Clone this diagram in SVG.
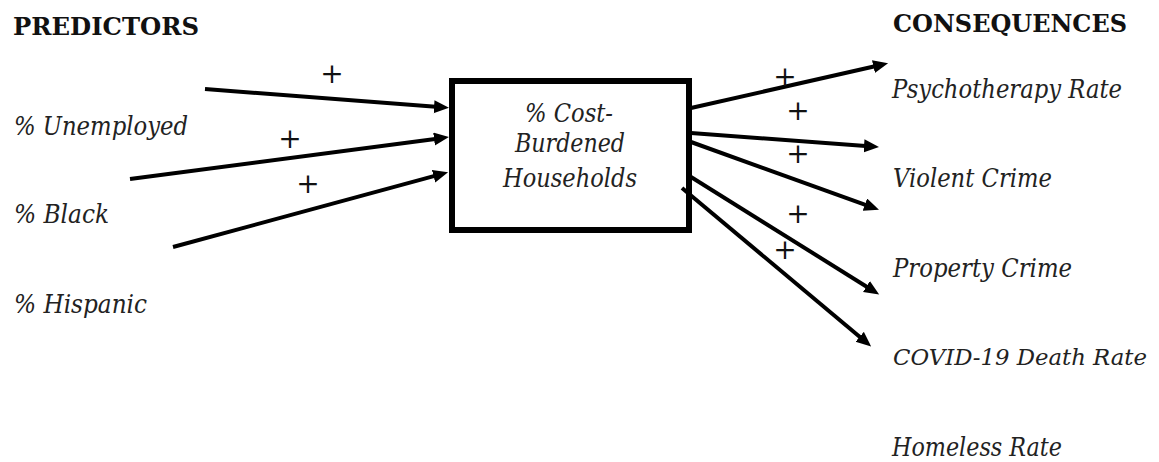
<svg xmlns="http://www.w3.org/2000/svg" width="1159" height="462" viewBox="0 0 1159 462">
<style>
.hd{font-family:"DejaVu Serif","Liberation Serif",serif;font-weight:bold;font-size:24px;fill:#111}
.lb{font-family:"DejaVu Serif","Liberation Serif",serif;font-style:italic;font-size:25.5px;fill:#222}
.pl{font-family:"DejaVu Serif","Liberation Serif",serif;font-size:28px;fill:#111;text-anchor:middle}
.ar{stroke:#000;stroke-width:4;fill:none;marker-end:url(#ah)}
.box{fill:#fff;stroke:#000;stroke-width:6}
</style>
<defs>
<marker id="ah" markerUnits="userSpaceOnUse" markerWidth="17" markerHeight="14" refX="5" refY="6.5" orient="auto" viewBox="0 0 17 14">
<path d="M0,0 L15,6.5 L0,13 z" fill="#000"/>
</marker>
</defs>
<g id="headers">
<text class="hd" x="13" y="35" textLength="186" lengthAdjust="spacingAndGlyphs">PREDICTORS</text>
<text class="hd" x="893" y="32" textLength="234" lengthAdjust="spacingAndGlyphs">CONSEQUENCES</text>
</g>
<g id="pred-unemployed"><text class="lb" x="14" y="135" textLength="174" lengthAdjust="spacingAndGlyphs">% Unemployed</text></g>
<g id="pred-black"><text class="lb" x="14" y="223" textLength="95" lengthAdjust="spacingAndGlyphs">% Black</text></g>
<g id="pred-hispanic"><text class="lb" x="14" y="313" textLength="133" lengthAdjust="spacingAndGlyphs">% Hispanic</text></g>
<g id="center-node">
<rect class="box" x="452" y="81" width="237" height="149"/>
<text class="lb" x="569" y="122" text-anchor="middle" textLength="88" lengthAdjust="spacingAndGlyphs">% Cost-</text>
<text class="lb" x="570" y="152" text-anchor="middle" textLength="110" lengthAdjust="spacingAndGlyphs">Burdened</text>
<text class="lb" x="570" y="187" text-anchor="middle" textLength="134" lengthAdjust="spacingAndGlyphs">Households</text>
</g>
<g id="cons-psychotherapy"><text class="lb" x="892" y="98" textLength="230" lengthAdjust="spacingAndGlyphs">Psychotherapy Rate</text></g>
<g id="cons-violent"><text class="lb" x="893" y="187" textLength="159" lengthAdjust="spacingAndGlyphs">Violent Crime</text></g>
<g id="cons-property"><text class="lb" x="893" y="277" textLength="179" lengthAdjust="spacingAndGlyphs">Property Crime</text></g>
<g id="cons-covid"><text class="lb" x="893" y="365" style="font-size:22px" textLength="254" lengthAdjust="spacingAndGlyphs">COVID-19 Death Rate</text></g>
<g id="cons-homeless"><text class="lb" x="892" y="456" textLength="170" lengthAdjust="spacingAndGlyphs">Homeless Rate</text></g>
<g id="connectors">
<line class="ar" x1="205" y1="89" x2="439" y2="107.1"/>
<line class="ar" x1="130" y1="179" x2="439" y2="138.4"/>
<line class="ar" x1="173" y1="247" x2="438.4" y2="174.9"/>
<line class="ar" x1="691" y1="108" x2="878.3" y2="65.5"/>
<line class="ar" x1="691" y1="133" x2="869" y2="146.2"/>
<line class="ar" x1="691" y1="142" x2="869.6" y2="206.3"/>
<line class="ar" x1="691" y1="177" x2="870.7" y2="289.2"/>
<line class="ar" x1="682" y1="188" x2="863.5" y2="340"/>
<text class="pl" x="332" y="83">+</text>
<text class="pl" x="290" y="148">+</text>
<text class="pl" x="308" y="193">+</text>
<text class="pl" x="785" y="86">+</text>
<text class="pl" x="798" y="120">+</text>
<text class="pl" x="798" y="163">+</text>
<text class="pl" x="798" y="223">+</text>
<text class="pl" x="785" y="259">+</text>
</g>
</svg>
